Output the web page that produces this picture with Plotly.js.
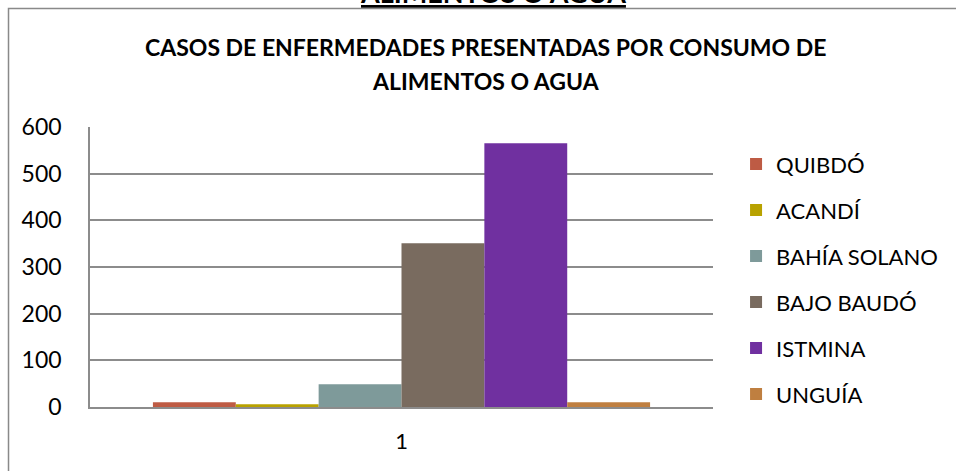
<!DOCTYPE html>
<html>
<head>
<meta charset="utf-8">
<script src="https://cdn.plot.ly/plotly-3.0.1.min.js"></script>
<style>
  html, body { margin: 0; padding: 0; background: #ffffff; }
  #chart { width: 956px; height: 471px; }
</style>
</head>
<body>
<div id="chart"></div>
<script>
// data
const categories = ['1'];
const municipios = ['QUIBDÓ', 'ACANDÍ', 'BAHÍA SOLANO', 'BAJO BAUDÓ', 'ISTMINA', 'UNGUÍA'];
const casos = [10, 6, 49, 351, 565, 10];
const colores = ['#BE5B44', '#B8A200', '#7E9A9A', '#796B5F', '#7030A0', '#BF7F40'];
const yTicks = [0, 100, 200, 300, 400, 500, 600];

const traces = municipios.map((name, i) => ({
    type: 'bar',
    name: name,
    x: categories,
    y: [casos[i]],
    legendgroup: 'g' + i,
    marker: {color: colores[i], line: {width: 0}},
    hoverinfo: 'name+y'
}));

const gridGrey = '#8C8C8C';
const font = 'Lato, "Open Sans", sans-serif';

const layout = {
    width: 956,
    height: 471,
    margin: {l: 90, r: 243, t: 127, b: 64, pad: 0},
    paper_bgcolor: '#ffffff',
    plot_bgcolor: '#ffffff',
    font: {family: font, color: '#000000', size: 20},
    barmode: 'group',
    bargap: 0.202,
    bargroupgap: 0,
    showlegend: true,
    legend: {
        x: 1.037, xanchor: 'left',
        y: 0.942, yanchor: 'top',
        font: {family: font, size: 22, color: '#000000'},
        tracegroupgap: 14.4,
        bgcolor: 'rgba(0,0,0,0)'
    },
    xaxis: {
        type: 'category',
        showline: true,
        linecolor: gridGrey,
        linewidth: 2,
        ticks: '',
        ticklabelstandoff: 14,
        tickfont: {family: font, size: 22, color: '#000000'},
        showgrid: false,
        zeroline: false
    },
    yaxis: {
        range: [0, 600],
        tickvals: yTicks,
        ticktext: yTicks.map(String),
        showline: true,
        linecolor: gridGrey,
        linewidth: 1.5,
        showgrid: true,
        gridcolor: gridGrey,
        gridwidth: 1.5,
        zeroline: false,
        ticks: '',
        ticklabelstandoff: 22,
        tickfont: {family: font, size: 23, color: '#000000'}
    },
    annotations: [
        {
            text: '<b><u>ALIMENTOS O AGUA</u></b>',
            xref: 'paper', yref: 'paper',
            x: 0.647, y: 1.415,
            xanchor: 'center', yanchor: 'bottom',
            showarrow: false,
            font: {family: font, size: 27, color: '#000000'}
        },
        {
            text: '<b>CASOS DE ENFERMEDADES PRESENTADAS POR CONSUMO DE</b>',
            xref: 'paper', yref: 'paper',
            x: 0.6356, y: 1.2857,
            xanchor: 'center', yanchor: 'middle',
            showarrow: false,
            font: {family: font, size: 23, color: '#000000'}
        },
        {
            text: '<b>ALIMENTOS O AGUA</b>',
            xref: 'paper', yref: 'paper',
            x: 0.6356, y: 1.164,
            xanchor: 'center', yanchor: 'middle',
            showarrow: false,
            font: {family: font, size: 23, color: '#000000'}
        }
    ],
    shapes: [
        {
            type: 'rect',
            xref: 'paper', yref: 'paper',
            x0: -0.1308, x1: 1.403,
            y0: -0.26, y1: 1.423,
            line: {color: '#898989', width: 1.5},
            fillcolor: 'rgba(0,0,0,0)',
            layer: 'below'
        }
    ]
};

Plotly.newPlot('chart', traces, layout, {displayModeBar: false, responsive: false});
</script>
</body>
</html>
